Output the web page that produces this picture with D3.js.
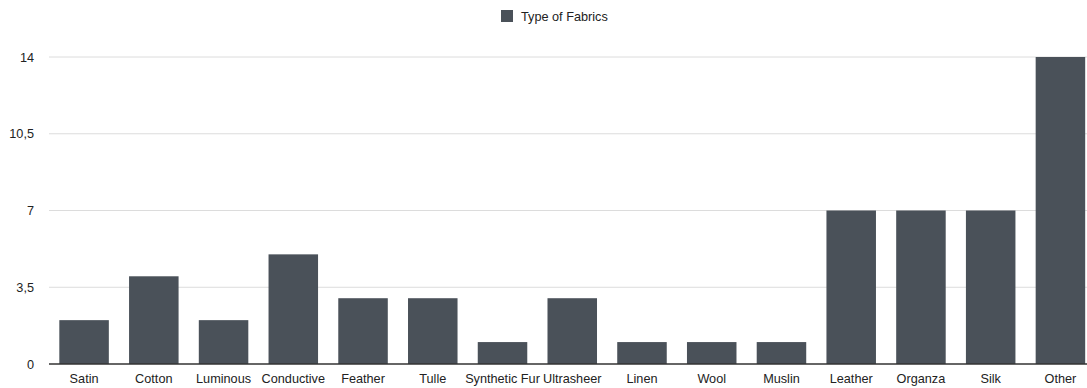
<!DOCTYPE html>
<html>
<head>
<meta charset="utf-8">
<script src="https://cdn.jsdelivr.net/npm/d3@7"></script>
<style>
  body { margin: 0; background: #fff; }
  svg { display: block; font-family: 'Liberation Sans', Arial, sans-serif; }
</style>
</head>
<body>
<div id="chart"></div>
<script>
const fabrics = ['Satin', 'Cotton', 'Luminous', 'Conductive', 'Feather', 'Tulle', 'Synthetic Fur', 'Ultrasheer', 'Linen', 'Wool', 'Muslin', 'Leather', 'Organza', 'Silk', 'Other']
const counts = [2, 4, 2, 5, 3, 3, 1, 3, 1, 1, 1, 7, 7, 7, 14]
const yTicks = [0, 3.5, 7, 10.5, 14]
const seriesName = 'Type of Fabrics'

const width = 1087
const height = 388
const barColor = '#4a5159'
const fontSize = '12.7px'

const svg = d3.select('#chart').append('svg')
  .attr('width', width)
  .attr('height', height)

const x = d3.scaleBand()
  .domain(fabrics)
  .range([49, 1095.5])
  .paddingInner(0.29)
  .paddingOuter(0.148)

const y = d3.scaleLinear()
  .domain([0, 14])
  .range([364, 57])

// gridlines
svg.append('g')
  .selectAll('line')
  .data(yTicks.filter(d => d > 0))
  .join('line')
  .attr('x1', 49)
  .attr('x2', width)
  .attr('y1', d => y(d))
  .attr('y2', d => y(d))
  .attr('stroke', '#dcdcdc')
  .attr('stroke-width', 1)

// y labels, decimal comma
const fmt = d => String(d).replace('.', ',')
svg.append('g')
  .selectAll('text')
  .data(yTicks)
  .join('text')
  .attr('x', 34)
  .attr('y', d => y(d) + 4.5)
  .attr('text-anchor', 'end')
  .attr('font-size', fontSize)
  .attr('fill', '#222')
  .text(fmt)

// bars
svg.append('g')
  .selectAll('rect')
  .data(fabrics.map((f, i) => ({ f, v: counts[i] })))
  .join('rect')
  .attr('x', d => x(d.f))
  .attr('y', d => y(d.v))
  .attr('width', x.bandwidth())
  .attr('height', d => y(0) - y(d.v))
  .attr('fill', barColor)

// baseline
svg.append('line')
  .attr('x1', 49)
  .attr('x2', width)
  .attr('y1', y(0))
  .attr('y2', y(0))
  .attr('stroke', '#333')
  .attr('stroke-width', 1.5)

// x labels
svg.append('g')
  .selectAll('text')
  .data(fabrics)
  .join('text')
  .attr('x', d => x(d) + x.bandwidth() / 2)
  .attr('y', 383)
  .attr('text-anchor', 'middle')
  .attr('font-size', fontSize)
  .attr('fill', '#222')
  .text(d => d)

// legend
const legend = svg.append('g')
legend.append('rect')
  .attr('x', 501)
  .attr('y', 10)
  .attr('width', 12)
  .attr('height', 12)
  .attr('fill', barColor)
legend.append('text')
  .attr('x', 521)
  .attr('y', 21)
  .attr('font-size', fontSize)
  .attr('fill', '#222')
  .text(seriesName)
</script>
</body>
</html>
